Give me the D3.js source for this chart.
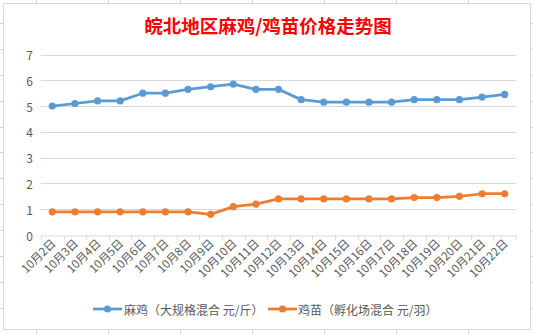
<!DOCTYPE html>
<html><head><meta charset="utf-8">
<script src="https://cdn.jsdelivr.net/npm/d3@7"></script>
<style>html,body{margin:0;padding:0;background:#fff;}svg{display:block;}</style>
</head><body>
<svg id="c" width="533" height="334"></svg>
<script>
const categories = ["10月2日","10月3日","10月4日","10月5日","10月6日","10月7日","10月8日","10月9日","10月10日","10月11日","10月12日","10月13日","10月14日","10月15日","10月16日","10月17日","10月18日","10月19日","10月20日","10月21日","10月22日"];
const majiValues = [5.0,5.1,5.2,5.2,5.5,5.5,5.65,5.75,5.85,5.65,5.65,5.25,5.15,5.15,5.15,5.15,5.25,5.25,5.25,5.35,5.45];
const jimiaoValues = [0.9,0.9,0.9,0.9,0.9,0.9,0.9,0.8,1.1,1.2,1.4,1.4,1.4,1.4,1.4,1.4,1.45,1.45,1.5,1.6,1.6];
const yTicks = [0,1,2,3,4,5,6,7];
const seriesNames = ["麻鸡（大规格混合 元/斤）","鸡苗（孵化场混合 元/羽）"];
const title = "皖北地区麻鸡/鸡苗价格走势图";

const svg = d3.select("#c");
const font = "'Noto Sans CJK SC','Noto Sans',sans-serif";

// spreadsheet gridlines behind chart
const g0 = svg.append("g").attr("stroke","#d4d4d4").attr("stroke-width",1);
d3.range(36, 533, 72).forEach(x => g0.append("line").attr("x1",x+0.5).attr("x2",x+0.5).attr("y1",0).attr("y2",334));
d3.range(-3, 334, 25.9).forEach(y => g0.append("line").attr("x1",0).attr("x2",533).attr("y1",Math.round(y)+0.5).attr("y2",Math.round(y)+0.5));

// chart area
svg.append("rect").attr("x",3.5).attr("y",3.5).attr("width",527).attr("height",326)
  .attr("fill","#fff").attr("stroke","#d9d9d9");

svg.append("text").attr("x",268).attr("y",25).attr("text-anchor","middle").attr("dominant-baseline","central")
  .attr("font-family",font).attr("font-weight","bold").attr("font-size",18.5).attr("fill","#ff0000").text(title);

const x = d3.scaleBand().domain(categories).range([41,516]);
const y = d3.scaleLinear().domain([0,7]).range([235,54.5]);

// gridlines
svg.append("g").selectAll("line").data(yTicks.slice(1)).join("line")
  .attr("x1",41).attr("x2",516).attr("y1",d=>Math.round(y(d))+0.5).attr("y2",d=>Math.round(y(d))+0.5)
  .attr("stroke","#d9d9d9");

// y labels
svg.append("g").selectAll("text").data(yTicks).join("text")
  .attr("x",33).attr("y",d=>y(d)).attr("text-anchor","end").attr("dominant-baseline","central")
  .attr("font-family",font).attr("font-size",12).attr("fill","#595959").text(d=>d);

// x axis
const xAxis = d3.axisBottom(x).tickSize(0).tickFormat("");
const gx = svg.append("g").attr("transform",`translate(0,${Math.round(y(0))+0.5})`).call(xAxis);
gx.select(".domain").attr("stroke","#d9d9d9");
const bounds = categories.map(c=>x(c)).concat([516]);
gx.selectAll(".tb").data(bounds).join("line").attr("class","tb")
  .attr("x1",d=>Math.round(d)+0.5).attr("x2",d=>Math.round(d)+0.5).attr("y1",0).attr("y2",4).attr("stroke","#d9d9d9");

svg.append("g").selectAll("text").data(categories).join("text")
  .attr("transform",d=>`translate(${x(d)+x.bandwidth()/2+4},${244}) rotate(-45)`)
  .attr("text-anchor","end").attr("font-family",font).attr("font-size",11.5).attr("fill","#595959").text(d=>d);

const cx = d => x(d)+x.bandwidth()/2;
const line = d3.line().x((d,i)=>cx(categories[i])).y(d=>y(d));
const series = [{v:majiValues,c:"#5b9bd5"},{v:jimiaoValues,c:"#ed7d31"}];
series.forEach(s=>{
  svg.append("path").datum(s.v).attr("d",line).attr("fill","none").attr("stroke",s.c).attr("stroke-width",2.75).attr("stroke-linejoin","round");
  svg.append("g").selectAll("circle").data(s.v).join("circle")
    .attr("cx",(d,i)=>cx(categories[i])).attr("cy",d=>y(d)).attr("r",3.6).attr("fill",s.c);
});

// legend
const leg = [{x:93,tx:124},{x:268,tx:298}];
series.forEach((s,i)=>{
  const L = leg[i];
  svg.append("line").attr("x1",L.x).attr("x2",L.x+29).attr("y1",309).attr("y2",309).attr("stroke",s.c).attr("stroke-width",2.75);
  svg.append("circle").attr("cx",L.x+14.5).attr("cy",309).attr("r",3.6).attr("fill",s.c);
  svg.append("text").attr("x",L.tx).attr("y",309).attr("dominant-baseline","central")
    .attr("font-family",font).attr("font-size",12).attr("fill","#595959").text(seriesNames[i]);
});
</script>
</body></html>
